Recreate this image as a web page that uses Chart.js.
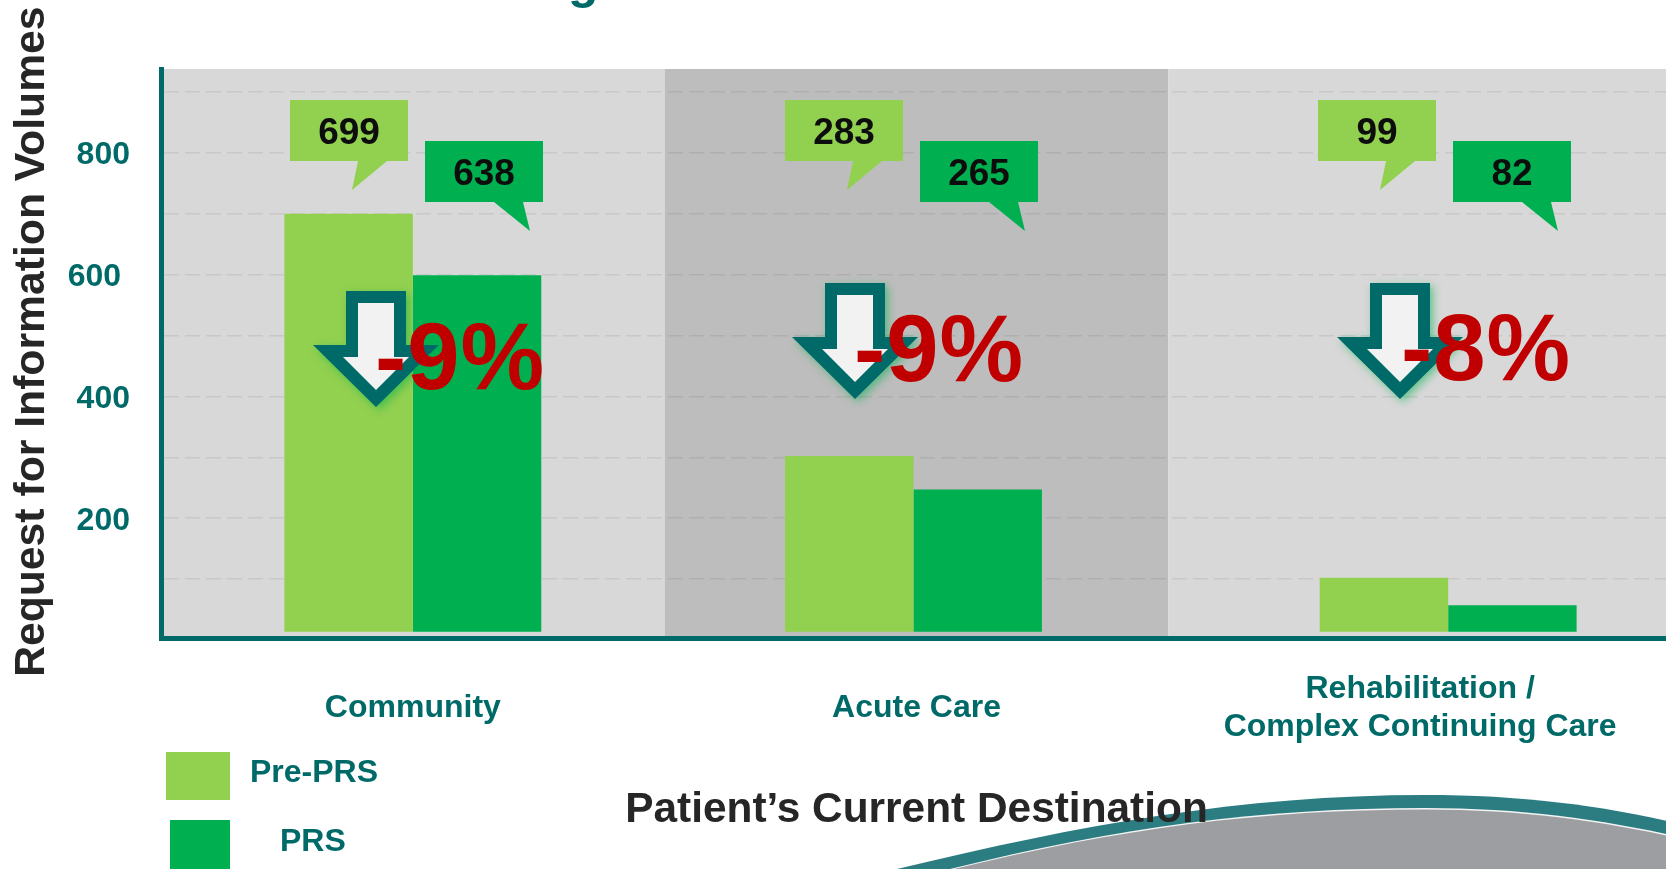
<!DOCTYPE html>
<html>
<head>
<meta charset="utf-8">
<title>Request for Information Volumes</title>
<script src="https://cdn.jsdelivr.net/npm/chart.js@4/dist/chart.umd.min.js"></script>
<style>
  html, body { margin: 0; padding: 0; background: #fff; overflow: hidden; }
  #wrap { width: 1666px; height: 869px; overflow: hidden; }
  canvas { display: block; }
</style>
</head>
<body>
<div id="wrap"><canvas id="chart" width="1680" height="869"></canvas></div>
<script>
const categories = ['Community', 'Acute Care', ['Rehabilitation /', 'Complex Continuing Care']];
const seriesNames = ['Pre-PRS', 'PRS'];
// bar heights as drawn on the slide, they do not quite follow the callouts
const preBars = [700, 302, 102];
const prsBars = [599, 247, 57];
const barBase = 13.5;
const preCallouts = ['699', '283', '99'];
const prsCallouts = ['638', '265', '82'];
const changes = ['-9%', '-9%', '-8%'];
const yLabelled = [200, 400, 600, 800];

const TEAL = '#006a68';
const LIGHT = '#92d050';
const GREEN = '#00b050';
const FONT = '"Liberation Sans", Arial, sans-serif';

// annotation placement per group, in canvas pixels
const barShift = [0, -3, 28];
const preCalloutX = [290, 785, 1318];
const prsCalloutX = [425, 920, 1453];
const arrowX = [376, 855, 1400];
const arrowTop = [291, 283, 283];
const changeX = [375, 854, 1401];
const changeY = [389, 381, 380];

function bubble(ctx, x, y, color, text, tailRight) {
  const w = 118, h = 61;
  ctx.fillStyle = color;
  ctx.beginPath();
  ctx.rect(x, y, w, h);
  ctx.fill();
  ctx.beginPath();
  if (tailRight) {
    ctx.moveTo(x + 69, y + h);
    ctx.lineTo(x + 105, y + h + 29);
    ctx.lineTo(x + 98, y + h);
  } else {
    ctx.moveTo(x + 68, y + h);
    ctx.lineTo(x + 62, y + h + 29);
    ctx.lineTo(x + 97, y + h);
  }
  ctx.closePath();
  ctx.fill();
  ctx.fillStyle = '#0d0d0d';
  ctx.font = 'bold 37px ' + FONT;
  ctx.textAlign = 'center';
  ctx.textBaseline = 'middle';
  ctx.fillText(text, x + w / 2, y + h / 2 + 3);
}

function arrowPath(ctx, cx, top, halfShaft, shoulder, halfHead, tip, start) {
  ctx.beginPath();
  ctx.moveTo(cx - halfShaft, top + start);
  ctx.lineTo(cx + halfShaft, top + start);
  ctx.lineTo(cx + halfShaft, top + shoulder);
  ctx.lineTo(cx + halfHead, top + shoulder);
  ctx.lineTo(cx, top + tip);
  ctx.lineTo(cx - halfHead, top + shoulder);
  ctx.lineTo(cx - halfShaft, top + shoulder);
  ctx.closePath();
}

const backdrop = {
  id: 'backdrop',
  beforeDraw(c) {
    const { ctx, chartArea } = c;
    const x = c.scales.x;
    const halfBand = (x.getPixelForValue(1) - x.getPixelForValue(0)) / 2;
    ctx.save();
    categories.forEach((_, i) => {
      ctx.fillStyle = i === 1 ? '#bdbdbd' : '#d8d8d8';
      const px = x.getPixelForValue(i);
      ctx.fillRect(px - halfBand, chartArea.top, halfBand * 2, chartArea.bottom - chartArea.top);
    });

    // slide template swoosh in the bottom right corner
    ctx.fillStyle = '#2b7d82';
    ctx.beginPath();
    ctx.moveTo(897, 869);
    ctx.bezierCurveTo(1080, 825, 1240, 795, 1425, 795);
    ctx.bezierCurveTo(1520, 795, 1600, 805, 1680, 824);
    ctx.lineTo(1680, 869);
    ctx.closePath();
    ctx.fill();
    ctx.fillStyle = '#f4f4f4';
    ctx.beginPath();
    ctx.moveTo(950, 869);
    ctx.bezierCurveTo(1120, 827, 1260, 808, 1425, 808);
    ctx.bezierCurveTo(1520, 808, 1600, 819, 1680, 837);
    ctx.lineTo(1680, 869);
    ctx.closePath();
    ctx.fill();
    ctx.fillStyle = '#9d9ea1';
    ctx.beginPath();
    ctx.moveTo(954, 869);
    ctx.bezierCurveTo(1120, 828.5, 1260, 809.5, 1425, 809.5);
    ctx.bezierCurveTo(1520, 809.5, 1600, 820.5, 1680, 838.5);
    ctx.lineTo(1680, 869);
    ctx.closePath();
    ctx.fill();
    ctx.restore();
  },
  afterDatasetsUpdate(c) {
    // the slide's bars sit off the band centres
    c.data.datasets.forEach((_, d) => {
      c.getDatasetMeta(d).data.forEach((bar, i) => { bar.x += barShift[i]; });
    });
  }
};

const overlay = {
  id: 'overlay',
  afterDatasetsDraw(c) {
    const { ctx } = c;
    ctx.save();
    categories.forEach((_, i) => {
      bubble(ctx, preCalloutX[i], 100, LIGHT, preCallouts[i], false);
      bubble(ctx, prsCalloutX[i], 141, GREEN, prsCallouts[i], true);

      ctx.save();
      ctx.shadowColor = 'rgba(0,176,80,0.55)';
      ctx.shadowBlur = 9;
      ctx.shadowOffsetX = 3;
      ctx.shadowOffsetY = 3;
      ctx.fillStyle = TEAL;
      arrowPath(ctx, arrowX[i], arrowTop[i], 30, 54, 63, 116, 0);
      ctx.fill();
      ctx.restore();
      ctx.fillStyle = '#f2f2f2';
      arrowPath(ctx, arrowX[i], arrowTop[i], 18, 66, 33, 99, 12);
      ctx.fill();

      ctx.fillStyle = '#c00000';
      ctx.font = 'bold 94px ' + FONT;
      ctx.letterSpacing = '1px';
      ctx.textAlign = 'left';
      ctx.textBaseline = 'alphabetic';
      ctx.fillText(changes[i], changeX[i], changeY[i]);
      ctx.letterSpacing = '0px';
    });

    // legend, the two rows are not aligned on the slide
    ctx.fillStyle = LIGHT;
    ctx.fillRect(166, 752, 64, 48);
    ctx.fillStyle = GREEN;
    ctx.fillRect(170, 820, 60, 49);
    ctx.fillStyle = TEAL;
    ctx.font = 'bold 32px ' + FONT;
    ctx.textAlign = 'left';
    ctx.textBaseline = 'middle';
    ctx.fillText(seriesNames[0], 250, 773);
    ctx.fillText(seriesNames[1], 280, 842);

    // tail of the slide title, cut off by the top edge
    ctx.font = 'bold 50px ' + FONT;
    ctx.textBaseline = 'alphabetic';
    ctx.fillText('g', 568, -2);
    ctx.restore();
  }
};

new Chart(document.getElementById('chart'), {
  type: 'bar',
  data: {
    labels: categories,
    datasets: [
      { label: seriesNames[0], data: preBars, base: barBase, backgroundColor: LIGHT, borderWidth: 0 },
      { label: seriesNames[1], data: prsBars, base: barBase, backgroundColor: GREEN, borderWidth: 0 }
    ]
  },
  options: {
    responsive: false,
    animation: false,
    events: [],
    categoryPercentage: 0.51,
    barPercentage: 1,
    layout: { padding: { top: 69, right: 8, bottom: 0, left: 0 } },
    plugins: { legend: { display: false }, title: { display: false }, tooltip: { enabled: false } },
    scales: {
      x: {
        grid: { display: false },
        border: { color: TEAL, width: 5 },
        afterFit(scale) { scale.height = 231; },
        ticks: {
          color: TEAL,
          font: { family: FONT, size: 32, weight: 'bold' },
          maxRotation: 0,
          autoSkip: false,
          crossAlign: 'center',
          padding: 43
        },
        title: {
          display: true,
          text: 'Patient’s Current Destination',
          color: '#262626',
          font: { family: FONT, size: 42.4, weight: 'bold' },
          padding: { top: 0, bottom: 33.5 }
        }
      },
      y: {
        min: 3.2,
        max: 938,
        afterFit(scale) { scale.width = 161; },
        grid: {
          color: 'rgba(0,0,0,0.07)',
          lineWidth: 1.5,
          drawTicks: false
        },
        border: { color: TEAL, width: 5, dash: [15, 6], dashOffset: 0 },
        ticks: {
          stepSize: 100,
          includeBounds: false,
          color: TEAL,
          padding: 31,
          labelOffset: 2.5,
          font: { family: FONT, size: 32, weight: 'bold' },
          // the 600 sits a little further left on the slide
          callback(v) {
            if (!yLabelled.includes(v)) return '';
            return v === 600 ? v + ' ' : String(v);
          }
        },
        title: {
          display: true,
          text: '  Request for Information Volumes',
          color: '#262626',
          font: { family: FONT, size: 42.7, weight: 'bold' },
          padding: { top: 7, bottom: 0 }
        }
      }
    }
  },
  plugins: [backdrop, overlay]
});
</script>
</body>
</html>
